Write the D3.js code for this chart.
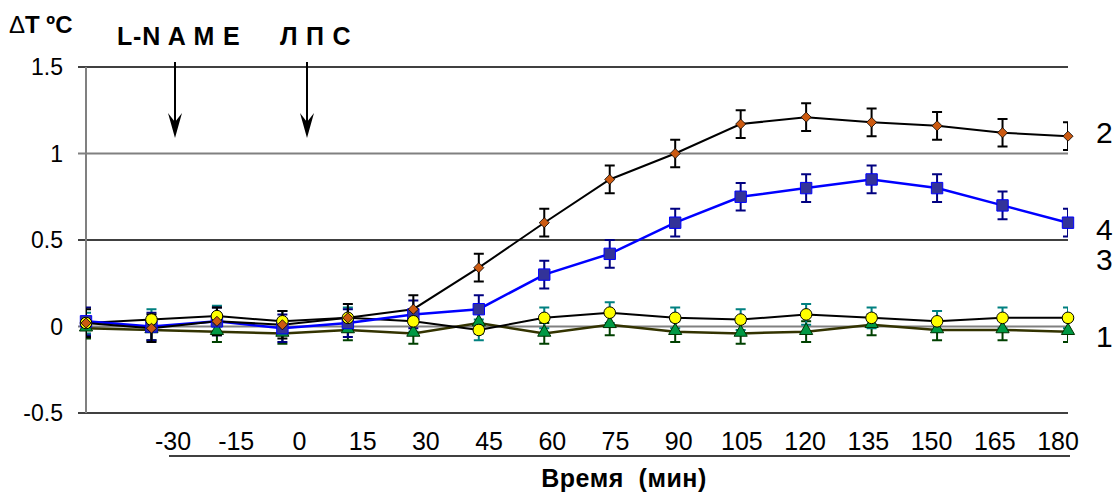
<!DOCTYPE html>
<html>
<head>
<meta charset="utf-8">
<script src="https://cdn.jsdelivr.net/npm/d3@7"></script>
<style>
  body { margin: 0; background: #fff; }
  svg { display: block; font-family: Arial, "Liberation Sans", sans-serif; }
</style>
</head>
<body>
<div id="chartArea"></div>
<script>
// Data
const points = d3.range(16);
const timeLabels = ["-30", "-15", "0", "15", "30", "45", "60", "75", "90", "105", "120", "135", "150", "165", "180"];
const yTicks = [-0.5, 0, 0.5, 1, 1.5];

const series2 = [0.02, -0.01, 0.03, 0.01, 0.05, 0.1, 0.34, 0.6, 0.85, 1.0, 1.17, 1.21, 1.18, 1.16, 1.12, 1.1];
const err2 = [0.08, 0.08, 0.08, 0.08, 0.08, 0.08, 0.08, 0.08, 0.08, 0.08, 0.08, 0.08, 0.08, 0.08, 0.08, 0.08];
const series4 = [0.03, 0.0, 0.03, -0.01, 0.02, 0.07, 0.1, 0.3, 0.42, 0.6, 0.75, 0.8, 0.85, 0.8, 0.7, 0.6];
const err4 = [0.08, 0.08, 0.08, 0.08, 0.08, 0.08, 0.08, 0.08, 0.08, 0.08, 0.08, 0.08, 0.08, 0.08, 0.08, 0.08];
const series3 = [0.02, 0.04, 0.06, 0.03, 0.05, 0.03, -0.02, 0.05, 0.08, 0.05, 0.04, 0.07, 0.05, 0.03, 0.05, 0.05];
const err3 = [0.06, 0.06, 0.06, 0.06, 0.06, 0.06, 0.06, 0.06, 0.06, 0.06, 0.06, 0.06, 0.06, 0.06, 0.06, 0.06];
const series1 = [-0.01, -0.02, -0.03, -0.04, -0.02, -0.04, 0.02, -0.04, 0.01, -0.03, -0.04, -0.03, 0.01, -0.02, -0.02, -0.03];
const err1 = [0.06, 0.06, 0.06, 0.06, 0.06, 0.06, 0.06, 0.06, 0.06, 0.06, 0.06, 0.06, 0.06, 0.06, 0.06, 0.06];

const seriesNames = ["1", "2", "3", "4"];

const width = 1118, height = 493;
const plot = { left: 86, right: 1068, top: 67, bottom: 413 };

const svg = d3.select("#chartArea")
    .append("svg")
    .attr("width", width)
    .attr("height", height);

// Scales
const x = d3.scalePoint().domain(points).range([plot.left, plot.right]);
const y = d3.scaleLinear().domain([-0.5, 1.5]).range([plot.bottom, plot.top]);
const xLab = d3.scalePoint().domain(timeLabels).range([173, 1058]);

svg.append("defs").append("clipPath")
    .attr("id", "plotClip")
    .append("rect")
    .attr("x", plot.left)
    .attr("y", 0)
    .attr("width", plot.right - plot.left)
    .attr("height", height);

// Gridlines
svg.append("g")
    .selectAll("line")
    .data(yTicks)
    .join("line")
    .attr("x1", plot.left - 8)
    .attr("x2", plot.right)
    .attr("y1", d => y(d))
    .attr("y2", d => y(d))
    .attr("stroke", d => (d === 0 || d === 1) ? "#808080" : "#000")
    .attr("stroke-width", d => (d === 0 || d === 1) ? 2 : 1.3);

// Y axis line
svg.append("line")
    .attr("x1", plot.left).attr("x2", plot.left)
    .attr("y1", plot.top).attr("y2", plot.bottom)
    .attr("stroke", "#808080")
    .attr("stroke-width", 2);

// Y labels
svg.append("g")
    .selectAll("text")
    .data(yTicks)
    .join("text")
    .attr("x", 63)
    .attr("y", d => y(d))
    .attr("dy", "0.36em")
    .attr("text-anchor", "end")
    .style("font-size", "23px")
    .text(d => d);

// X labels
svg.append("g")
    .selectAll("text")
    .data(timeLabels)
    .join("text")
    .attr("x", d => xLab(d))
    .attr("y", 450)
    .attr("text-anchor", "middle")
    .style("font-size", "25px")
    .text(d => d);

svg.append("line")
    .attr("x1", 169).attr("x2", 1070)
    .attr("y1", 456).attr("y2", 456)
    .attr("stroke", "#000")
    .attr("stroke-width", 1.5);

svg.append("text")
    .attr("x", 624)
    .attr("y", 487)
    .attr("text-anchor", "middle")
    .style("font-size", "25px")
    .style("font-weight", "bold")
    .style("letter-spacing", "0.5px")
    .attr("xml:space", "preserve")
    .text("Время  (мин)");

// Top texts
const dt = svg.append("text")
    .attr("x", 9).attr("y", 33)
    .style("font-size", "24px")
    .style("font-weight", "bold");
dt.append("tspan").style("font-weight", "normal").text("Δ");
dt.append("tspan").text("T ºC");

svg.append("text")
    .attr("x", 117).attr("y", 45)
    .style("font-size", "25px")
    .style("font-weight", "bold")
    .style("letter-spacing", "0.8px")
    .text("L-N A M E");

svg.append("text")
    .attr("x", 280).attr("y", 45)
    .style("font-size", "25px")
    .style("font-weight", "bold")
    .style("letter-spacing", "0.8px")
    .text("Л П С");

// Arrows
const arrows = [175, 307];
const arrowG = svg.append("g");
arrows.forEach(ax => {
    arrowG.append("line")
        .attr("x1", ax).attr("x2", ax)
        .attr("y1", 62).attr("y2", 130)
        .attr("stroke", "#000")
        .attr("stroke-width", 2);
    arrowG.append("path")
        .attr("d", `M${ax},138 L${ax - 7},113 L${ax},122 L${ax + 7},113 Z`)
        .attr("fill", "#000");
});

// Series
const line = d3.line().x((d, i) => x(i)).y(d => y(d));

const drawErr = (vals, errs, color) => {
    const g = svg.append("g").attr("clip-path", "url(#plotClip)")
        .attr("stroke", color).attr("stroke-width", 2).attr("fill", "none");
    g.selectAll("path")
        .data(vals)
        .join("path")
        .attr("d", (d, i) => {
            const cx = x(i), t = y(d + errs[i]), b = y(d - errs[i]);
            return `M${cx - 5},${t}H${cx + 5}M${cx},${t}V${b}M${cx - 5},${b}H${cx + 5}`;
        });
};

const drawLine = (vals, color, w) => {
    svg.append("path")
        .datum(vals)
        .attr("d", line)
        .attr("fill", "none")
        .attr("stroke", color)
        .attr("stroke-width", w);
};

drawErr(series1, err1, "#004000");
drawErr(series3, err3, "#008080");
drawErr(series4, err4, "#000080");
drawErr(series2, err2, "#000");

drawLine(series1, "#333300", 2.5);
drawLine(series3, "#000", 2);
drawLine(series4, "#0000ff", 2.5);
drawLine(series2, "#000", 2);

const sym = (type, size) => d3.symbol().type(type).size(size);

svg.append("g").selectAll("path")
    .data(series1).join("path")
    .attr("transform", (d, i) => `translate(${x(i)},${y(d) - 1})`)
    .attr("d", sym(d3.symbolTriangle, 75))
    .attr("fill", "#009944")
    .attr("stroke", "#003300")
    .attr("stroke-width", 1);

svg.append("g").selectAll("path")
    .data(series4).join("path")
    .attr("transform", (d, i) => `translate(${x(i)},${y(d)})`)
    .attr("d", sym(d3.symbolSquare, 130))
    .attr("fill", "#333399")
    .attr("stroke", "#0000ff")
    .attr("stroke-width", 1);

svg.append("g").selectAll("circle")
    .data(series3).join("circle")
    .attr("cx", (d, i) => x(i))
    .attr("cy", d => y(d))
    .attr("r", 5.8)
    .attr("fill", "#ffff00")
    .attr("stroke", "#000")
    .attr("stroke-width", 1);

svg.append("g").selectAll("path")
    .data(series2).join("path")
    .attr("transform", (d, i) => `translate(${x(i)},${y(d)})`)
    .attr("d", sym(d3.symbolDiamond2, 65))
    .attr("fill", "#cc5a11")
    .attr("stroke", "#000")
    .attr("stroke-width", 0.8);

// Series labels on the right
const labelY = { "2": 132, "4": 229, "3": 259, "1": 336 };
svg.append("g")
    .selectAll("text")
    .data(seriesNames)
    .join("text")
    .attr("x", 1096)
    .attr("y", d => labelY[d])
    .attr("dy", "0.36em")
    .style("font-size", "30px")
    .text(d => d);
</script>
</body>
</html>
